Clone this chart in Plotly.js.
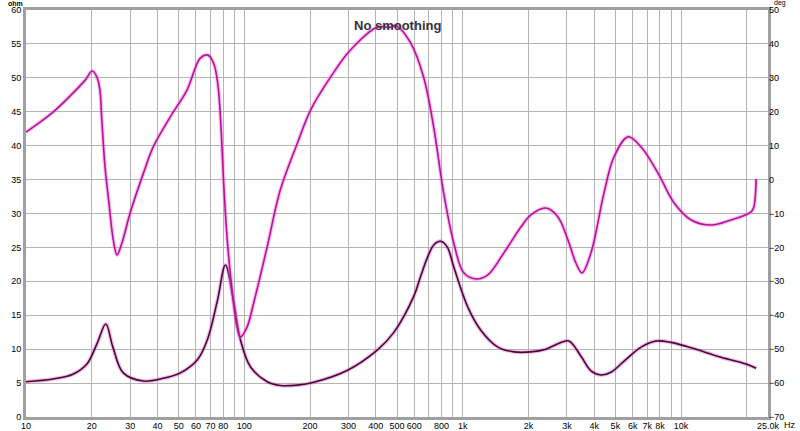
<!DOCTYPE html>
<html><head><meta charset="utf-8">
<script src="https://cdn.plot.ly/plotly-3.0.1.min.js"></script>
<style>body{margin:0;background:#fff}#c{width:800px;height:431px}</style>
</head><body><div id="c"></div>
<script>
// Impedance magnitude (ohm)
const impFreq = [10,13.3,16.4,19.0,21.2,23.2,25.0,27.9,34.4,42.5,50.9,60.8,67.7,75.3,81.9,89.1,95.9,106.6,127.3,146,175,201,297,407,482,595,641,691,738,792,851,910,1055,1210,1449,1715,2052,2404,2729,3062,3474,3866,4295,4773,5599,6560,7676,8990,11120,15240,19860,22070];
const impOhm  = [5.2,5.6,6.3,7.8,10.9,13.7,10.3,6.5,5.3,5.7,6.5,8.4,11.4,17.2,22.4,17.2,11.4,7.4,5.2,4.65,4.7,5.0,6.9,9.9,12.4,17.7,20.7,23.6,25.4,25.9,25.0,22.1,16.2,12.8,10.3,9.6,9.6,10.0,10.8,11.2,9.0,6.8,6.2,6.6,8.5,10.3,11.2,11.0,10.2,8.8,7.8,7.2];
// Phase (deg)
const phFreq = [10,13.3,16.4,18.7,20.1,21.1,21.8,22.2,23.0,23.9,25.1,26.1,27.5,30.0,34.5,38.3,45.8,54.6,62.8,68.1,72.3,75.5,77.7,80.4,83.3,87.8,92.6,95.9,102.8,110.3,127.1,146,175,201,248,306,407,467,493,577,662,736,818,910,1011,1148,1303,1543,1846,2052,2404,2729,3033,3299,3514,3866,4434,4929,5713,6560,7840,9290,11120,13740,16950,20940,21530,22070];
const phDeg  = [14.0,19.9,25.5,29.4,32.0,30.3,26.4,18.5,3.8,-6,-17.8,-22.2,-18.7,-9.8,1.9,9.7,18.5,26.4,35.8,36.7,34.3,28.4,18.5,-1,-17,-32.5,-43.5,-46.4,-43.5,-36.4,-19.9,-3.1,10.8,20.5,30.2,38.2,45,44.9,45.4,40.3,30.2,15.5,-4,-18.7,-27.5,-29.3,-28.1,-21.6,-14,-10.4,-8.4,-11,-17.8,-24.6,-27.5,-21.6,-4,6.7,12.6,9.6,1.9,-6.9,-11.9,-13.4,-11.9,-9.5,-8.1,0.2];
// Axis ticks
const xGrid = [10,20,30,40,50,60,70,80,90,100,200,300,400,500,600,700,800,900,1000,2000,3000,4000,5000,6000,7000,8000,9000,10000,20000,25000];
const xText = ['10','20','30','40','50','60','70','80','','100','200','300','400','500','600','','800','','1k','2k','3k','4k','5k','6k','7k','8k','','10k','','25.0k'];
const yOhm = [0,5,10,15,20,25,30,35,40,45,50,55,60];
const yDeg = [-70,-60,-50,-40,-30,-20,-10,0,10,20,30,40,50];

const phaseCol = '#b8109a', phaseHalo = 'rgba(240,120,220,0.45)';
const impCol = '#4a0838', impHalo = 'rgba(220,90,200,0.4)';
const ln = (c,w)=>({color:c,width:w,shape:'spline',smoothing:1});
const traces = [
 {x:phFreq,y:phDeg,yaxis:'y2',mode:'lines',line:ln(phaseHalo,4)},
 {x:phFreq,y:phDeg,yaxis:'y2',mode:'lines',line:ln(phaseCol,1.6)},
 {x:impFreq,y:impOhm,mode:'lines',line:ln(impHalo,4)},
 {x:impFreq,y:impOhm,mode:'lines',line:ln(impCol,1.6)}
];
const tf = {family:'Liberation Sans, Arial, sans-serif',size:9,color:'#000'};
const layout = {
 width:800,height:431,showlegend:false,
 paper_bgcolor:'#fff',plot_bgcolor:'#fff',
 margin:{l:26,r:32,t:10,b:14},
 xaxis:{type:'log',range:[1,Math.log10(25000)],tickvals:xGrid,ticktext:xText,tickfont:tf,ticklabelstandoff:-2,
   showgrid:true,gridcolor:'#b4b4b4',gridwidth:1,showline:true,linecolor:'#a0a0a0',linewidth:3,mirror:true,ticks:'',zeroline:false},
 yaxis:{range:[0,60],tickvals:yOhm,tickfont:tf,showgrid:true,gridcolor:'#b4b4b4',gridwidth:1,
   showline:true,linecolor:'#a0a0a0',linewidth:3,mirror:true,ticks:'',zeroline:false},
 yaxis2:{range:[-70,50],tickvals:yDeg,tickfont:tf,overlaying:'y',side:'right',showgrid:false,zeroline:false,ticks:'',showline:false},
 annotations:[
  {text:'<b>No smoothing</b>',xref:'paper',yref:'paper',x:0.5,y:0.985,xanchor:'center',yanchor:'top',showarrow:false,font:{family:'Liberation Sans, Arial, sans-serif',size:13,color:'#333'}},
  {text:'<b>ohm</b>',xref:'paper',yref:'paper',x:-0.002,y:1.0,xanchor:'right',yanchor:'bottom',yshift:1,showarrow:false,font:{family:'Liberation Sans, Arial, sans-serif',size:7,color:'#000'}},
  {text:'deg',xref:'paper',yref:'paper',x:1.0,xanchor:'left',y:1.0,yanchor:'bottom',xshift:4,yshift:1,showarrow:false,font:{family:'Liberation Sans, Arial, sans-serif',size:7,color:'#000'}},
  {text:'Hz',xref:'paper',yref:'paper',x:1.0,xanchor:'left',y:0,yanchor:'top',xshift:14,yshift:-1,showarrow:false,font:tf}
 ]
};
Plotly.newPlot('c',traces,layout,{staticPlot:true});
</script></body></html>
